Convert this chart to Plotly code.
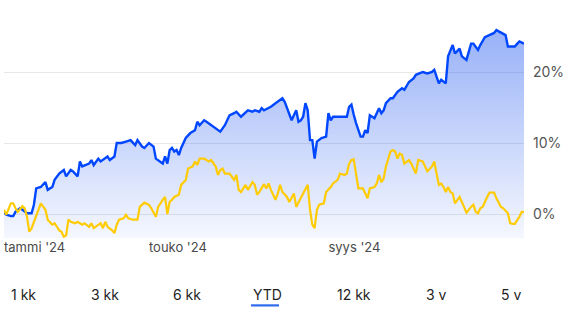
import plotly.graph_objects as go

# ---- data (trading-day index, % change YTD) ----
fund_day = [0,1,3,4,5,7,8,10,12,13,14,16,18,19,21,22,24,26,27,29,30,32,33,34,37,38,39,41,42,45,46,48,49,51,53,55,57,58,60,61,63,65,66,69,70,71,72,73,74,75,76,77,79,81,83,84,85,87,88,90,92,94,96,98,100,101,103,105,106,108,109,111,112,113,116,118,121,122,124,125,127,128,129,130,131,132,133,134,135,136,138,140,141,142,143,146,149,150,151,152,153,155,156,157,158,159,161,162,163,164,165,166,168,169,171,173,174,176,178,179,182,184,186,187,189,190,192,193,194,195,196,198,199,201,203,204,206,207,209,211,213,214,216,218,219,222,224,226]
fund_pct = [0.2,-0.1,-0.3,-0.3,0.3,0.8,0.6,0.1,0.1,1.3,3.6,3.8,4.5,3.4,3.8,4.8,5.7,6.2,5.3,6.2,6.0,5.3,7.4,6.7,7.1,7.6,6.9,7.8,7.4,8.1,7.6,8.1,10.0,10.0,10.2,10.4,9.7,10.4,9.5,9.3,10.0,9.5,7.8,7.1,8.1,7.1,9.0,9.3,8.8,9.0,8.3,9.3,10.7,11.4,11.8,13.0,12.5,13.2,13.0,12.5,12.1,11.6,12.5,13.9,14.2,14.4,13.7,14.4,14.6,14.4,14.6,14.4,14.9,14.6,15.1,15.6,16.3,15.8,14.2,13.2,14.6,13.0,13.2,13.7,15.6,14.6,10.4,10.4,7.8,10.2,10.7,10.9,14.2,13.2,13.7,13.7,13.7,15.1,15.4,14.0,12.8,10.9,10.9,11.8,11.4,13.9,13.5,14.2,14.9,14.2,14.6,15.6,16.3,16.3,17.2,17.7,17.5,18.6,19.1,19.6,20.0,19.8,20.0,20.3,18.4,18.9,18.4,22.2,22.9,23.8,22.6,23.3,22.2,21.7,24.0,24.0,23.1,23.8,24.9,25.2,25.5,25.9,25.5,25.2,23.6,23.6,24.3,24.0]

index_day = [0,1,3,4,5,6,8,9,10,11,12,13,16,18,19,21,22,24,25,26,27,28,29,31,32,34,35,37,38,39,40,42,43,44,45,47,48,49,50,52,53,54,56,58,59,60,61,63,64,66,67,69,70,71,72,73,74,76,77,79,80,82,83,84,85,87,89,90,92,93,94,95,96,98,99,100,101,102,103,105,106,108,109,110,111,113,114,115,116,118,119,120,121,123,124,126,127,129,130,132,133,134,135,136,137,139,140,142,143,145,146,148,149,150,151,152,153,154,156,158,159,161,162,163,164,165,166,168,169,170,171,172,173,174,176,177,179,180,182,183,184,186,187,188,189,190,191,192,193,194,195,196,198,199,200,201,203,204,205,206,207,208,210,211,213,214,216,217,219,220,221,222,224,225,226]
index_pct = [0.6,-0.1,1.5,1.5,0.8,0.3,1.1,0.8,-0.4,-2.5,-2.0,-1.1,1.5,0.6,-0.8,-1.5,-1.3,-2.3,-2.5,-3.2,-3.0,-0.8,-1.1,-1.3,-1.1,-1.5,-1.3,-1.8,-1.3,-2.0,-1.8,-1.3,-2.0,-1.1,-1.8,-2.3,-2.7,-1.5,-0.8,-0.6,-0.1,-0.6,-0.8,-0.8,1.0,1.3,1.6,1.3,0.8,-0.4,1.0,2.0,2.4,0.0,1.7,2.0,2.4,2.7,4.1,4.8,6.4,6.7,7.4,6.9,7.8,7.8,7.4,7.6,6.7,5.5,6.2,6.4,5.7,5.7,5.3,4.8,5.5,3.4,3.1,4.1,3.4,4.5,4.1,2.7,3.1,4.2,3.6,4.3,3.4,2.0,2.9,4.1,3.1,2.4,1.7,2.9,1.0,2.4,2.9,4.1,0.6,-1.5,-2.0,0.6,1.3,1.5,3.1,3.8,4.3,4.8,5.7,5.5,5.7,7.1,7.6,7.7,5.7,3.6,3.6,2.2,3.6,3.8,4.3,5.5,4.5,5.0,6.7,8.8,9.0,8.8,7.8,8.5,8.3,7.1,7.6,7.1,5.7,7.6,7.4,6.7,6.0,6.7,7.4,5.7,4.1,4.3,3.8,3.1,3.8,3.1,2.9,1.5,2.4,1.7,1.0,0.2,1.0,1.3,0.3,0.1,0.8,1.0,2.4,3.0,3.0,2.2,1.0,0.8,0.1,-1.3,-1.4,-1.4,-0.4,0.3,0.3]

month_ticks = [0, 63, 141]
month_labels = ["tammi '24", "touko '24", "syys '24"]
y_ticks = [0, 10, 20]
y_labels = ["0%", "10%", "20%"]
periods = ["1 kk", "3 kk", "6 kk", "YTD", "12 kk", "3 v", "5 v"]
active_period = "YTD"

Y_MIN, Y_MAX = -3.38, 30.14
X_MAX = 226

BLUE = "#0047ff"
YELLOW = "#ffcb05"
FONT = "Inter"

fig = go.Figure()

# baseline for the area fill (bottom of the axis)
fig.add_trace(go.Scatter(
    x=fund_day, y=[Y_MIN] * len(fund_day), mode="lines",
    line=dict(width=0, color="rgba(0,0,0,0)"), hoverinfo="skip", showlegend=False))

fig.add_trace(go.Scatter(
    x=fund_day, y=fund_pct, mode="lines",
    line=dict(color=BLUE, width=2.4),
    fill="tonexty",
    fillgradient=dict(type="vertical", start=Y_MIN, stop=26,
                      colorscale=[[0, "rgba(30,85,240,0.045)"], [1, "rgba(30,85,240,0.46)"]]),
    showlegend=False))

fig.add_trace(go.Scatter(
    x=index_day, y=index_pct, mode="lines",
    line=dict(color=YELLOW, width=2.2),
    showlegend=False))

# period selector
PLOT_L, PLOT_W, PLOT_H = 4, 520, 238
left_edges = [9, 89, 171, 251, 335, 424, 499]
for lbl, px in zip(periods, left_edges):
    fig.add_annotation(
        text=lbl, xref="paper", yref="paper",
        x=(px - PLOT_L) / PLOT_W, y=(PLOT_H - 294) / PLOT_H,
        xanchor="left", yanchor="middle", showarrow=False,
        font=dict(family=FONT, size=14, color="#1f1f1f"))
    if lbl == active_period:
        fig.add_shape(type="rect", xref="paper", yref="paper",
                      x0=(px - PLOT_L) / PLOT_W, x1=(px + 28 - PLOT_L) / PLOT_W,
                      y0=(PLOT_H - 306.5) / PLOT_H, y1=(PLOT_H - 304.3) / PLOT_H,
                      fillcolor="#2f6bef", line=dict(width=0))

fig.update_layout(
    width=570, height=310,
    margin=dict(l=4, r=46, t=0, b=72),
    paper_bgcolor="white", plot_bgcolor="white",
    font=dict(family=FONT),
    xaxis=dict(range=[0, X_MAX], showgrid=False, zeroline=False, showline=False,
               tickvals=month_ticks, ticktext=month_labels, ticks="",
               ticklabelposition="outside right",
               tickfont=dict(family=FONT, size=13, color="#4a4a4a")),
    yaxis=dict(range=[Y_MIN, Y_MAX], side="right", tickvals=y_ticks, ticktext=y_labels,
               showgrid=True, gridcolor="#e8e8e8", gridwidth=1, zeroline=False,
               showline=False, ticks="", ticklabelstandoff=8,
               tickfont=dict(family=FONT, size=14, color="#555555")),
)

fig.write_html("out.html")
